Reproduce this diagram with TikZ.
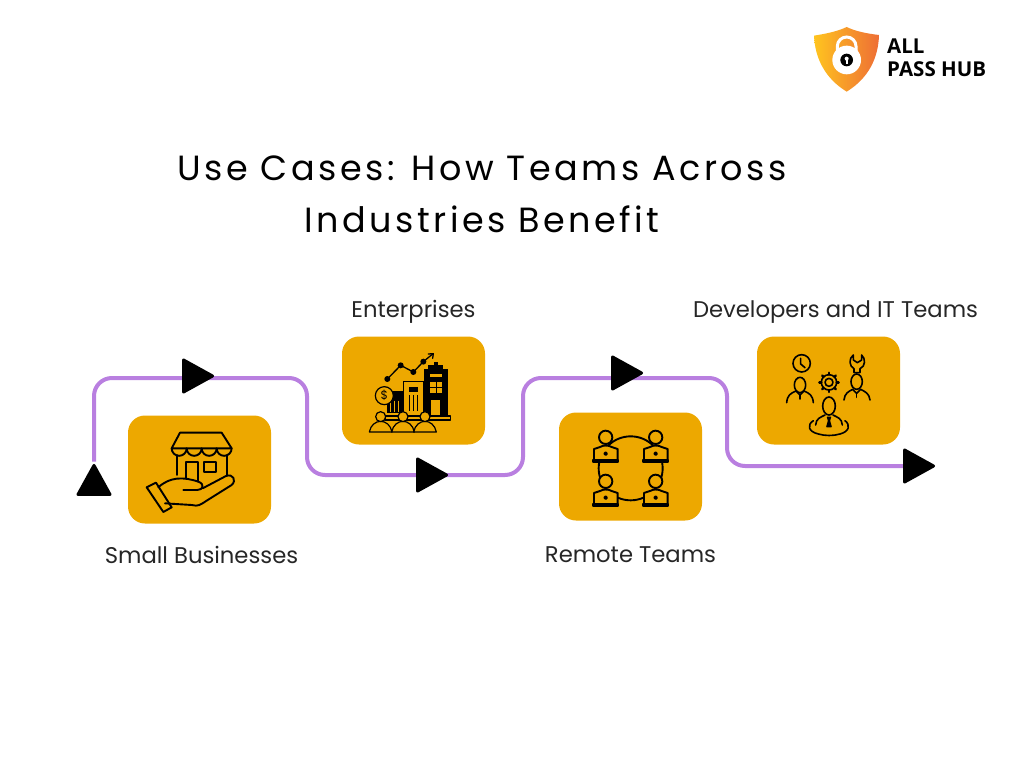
\documentclass[tikz,border=0pt]{standalone}
\usepackage{fontspec}
\setmainfont{Poppins}
\newfontfamily\titlefont[LetterSpace=10]{Poppins}
\newfontfamily\logofont{Open Sans}
\usetikzlibrary{backgrounds,positioning,shapes.geometric}
\definecolor{amber}{HTML}{EDA800}
\definecolor{routecol}{HTML}{B97FE0}
\definecolor{shieldl}{HTML}{FFC41F}
\definecolor{shieldr}{HTML}{EE6E35}

\begin{document}
\begin{tikzpicture}
  [
   x=1pt,y=-1pt,
   box/.style={rectangle,fill=amber,rounded corners=17pt,inner sep=0pt,outer sep=0pt,minimum width=143pt,minimum height=108pt},
   lbl/.style={font=\fontsize{22.7}{28}\selectfont,text=black!85,inner sep=0pt,text height=16pt,text depth=5pt},
   tri/.style={isosceles triangle,isosceles triangle stretches,fill=black,draw=black,line width=3pt,line join=round,inner sep=0pt,minimum width=32pt,minimum height=29pt},
   route/.style={draw=routecol,line width=4pt,rounded corners=18pt},
   icon/.style={line width=1.9pt,line join=round,line cap=round,draw=black},
   thinicon/.style={icon,line width=1.6pt},
   zoomed/.style={x=0.3333pt,y=-0.3333pt}
  ]
   \useasboundingbox (0,0) rectangle (1024,768);

   % title and logo text
   \node[font=\titlefont\fontsize{35}{52}\selectfont,align=center,inner sep=0pt] (title) at (482,194) {Use Cases: How Teams Across\\Industries Benefit};
   \node[font=\logofont\bfseries\fontsize{20.5}{23}\selectfont,align=left,inner sep=0pt,anchor=west] (logotxt) at (887,58) {ALL\\PASS HUB};

   % boxes
   \node[box] (box1) at (199.5,469.5) {};
   \node[box] (box2) [above right=-29pt and 71pt of box1] {};
   \node[box] (box3) [below right=-32pt and 74pt of box2] {};
   \node[box] (box4) [above right=-32pt and 55pt of box3] {};

   \node[lbl] (lbl1) [below=24pt of box1,xshift=2pt] {Small Businesses};
   \node[lbl] (lbl2) [above=14pt of box2] {Enterprises};
   \node[lbl] (lbl3) [below=26pt of box3] {Remote Teams};
   \node[lbl] (lbl4) [above=14pt of box4,xshift=7pt] {Developers and IT Teams};

   % arrows on the route
   \node[tri,shape border rotate=90] (tri1) at (94,485) {};
   \node[tri] (tri2) at (193,376) {};
   \node[tri] (tri3) at (427,475) {};
   \node[tri] (tri4) at (622,373) {};
   \node[tri] (tri5) at (914,466) {};

   \coordinate (c1) at (94,378);
   \coordinate (c2) at (307,378);
   \coordinate (c3) at (307,475);
   \coordinate (c4) at (523,475);
   \coordinate (c5) at (523,378);
   \coordinate (c6) at (727,378);
   \coordinate (c7) at (727,466);

   \begin{scope}[on background layer]
     \draw[route] (tri1) -- (c1) -- (c2) -- (c3) -- (c4) -- (c5) -- (c6) -- (c7) -- (tri5);
   \end{scope}

   % logo
   \begin{scope}[shift={(800,15)},zoomed]
     \shade[left color=shieldl,right color=shieldr] (42,62) .. controls (85,55) and (115,48) .. (140,36) .. controls (165,48) and (195,55) .. (237,60) .. controls (235,130) and (205,190) .. (140,230) .. controls (75,190) and (45,130) .. (42,62) -- cycle;
     \draw[white,line width=3pt] (112,110) -- (112,94) arc[start angle=180,end angle=360,radius=28] -- (168,110);
     \fill[white] (140,135) circle[radius=43];
     \fill[black] (140,135) circle[radius=19];
     \fill[white] (140,131) circle[radius=6];
     \fill[white] (137,131) rectangle (143,147);
   \end{scope}

   % small businesses icon
   \begin{scope}[shift={(120,410)},zoomed]
     \draw[icon] (180,68) -- (305,68) -- (335,115) -- (155,115) -- cycle;
     \draw[icon] (155,115) arc[start angle=180,end angle=0,radius=22.5] arc[start angle=180,end angle=0,radius=22.5] arc[start angle=180,end angle=0,radius=22.5] arc[start angle=180,end angle=0,radius=22.5];
     \draw[icon] (172,135) -- (172,195);
     \draw[icon] (320,135) -- (320,195);
     \draw[icon] (197,205) -- (197,155) -- (233,155) -- (233,215);
     \draw[icon] (252,155) rectangle (288,187);
     \draw[icon] (80,232) -- (108,218) -- (155,292) -- (130,306) -- cycle;
     \draw[icon] (115,232) .. controls (150,200) and (190,200) .. (235,215) .. controls (255,222) and (250,240) .. (232,240) -- (190,240);
     \draw[icon] (135,280) -- (215,285) .. controls (235,290) and (240,285) .. (260,272) -- (335,225) .. controls (350,212) and (340,190) .. (318,198) -- (248,235);
   \end{scope}

   % enterprises icon
   \begin{scope}[shift={(335,330)},zoomed]
     \draw[icon,line width=1.3pt] (157,147) -- (197,106) -- (235,126) -- (265,95) -- (293,72);
     \draw[icon,line width=1.3pt] (280,72) -- (295,71) -- (293,85);
     \foreach \px/\py in {157/147,197/106,235/126,265/95}
       \fill (\px,\py) circle[radius=9];
     \fill (155,182) rectangle (205,250);
     \foreach \px in {165,178,191}
       \draw[amber,line width=1pt] (\px,212) -- (\px,246);
     \fill (267,118) rectangle (338,258);
     \fill (280,105) rectangle (325,118);
     \fill (296,95) rectangle (308,105);
     \fill[amber] (285,132) rectangle (322,142);
     \fill[amber] (285,157) rectangle (322,190);
     \draw[black,line width=1pt] (303.5,157) -- (303.5,190) (285,173.5) -- (322,173.5);
     \fill[amber] (288,210) rectangle (315,255);
     \draw[icon,fill=amber,line width=1.2pt] (205,155) rectangle (267,258);
     \fill (222,172) rectangle (250,185);
     \foreach \px in {225,236,247}
       \draw[black,line width=1pt] (\px,195) -- (\px,242);
     \draw[icon,fill=amber,line width=1.2pt] (148,197) circle[radius=27];
     \node[font=\fontsize{12}{12}\selectfont,inner sep=0pt] (coin) at (148,197) {\$};
     \draw[icon,line width=1.2pt] (150,258) rectangle (347,270);
     \foreach \px in {137,204,270}
       {
       \draw[icon,fill=amber,line width=1.2pt] (\px-34,306) .. controls (\px-30,285) and (\px-15,274) .. (\px,274) .. controls (\px+15,274) and (\px+30,285) .. (\px+34,306) -- cycle;
       \draw[icon,fill=amber,line width=1.2pt] (\px,260) circle[radius=15];
       }
   \end{scope}

   % remote teams icon
   \begin{scope}[shift={(550,405)},zoomed]
     \draw[icon] (242,190) circle[radius=96];
     \foreach \px/\py in {0/0,150/0,0/132,150/132}
       {
       \begin{scope}[shift={(\px,\py)}]
         \draw[icon,fill=amber] (167,97) circle[radius=20];
         \draw[icon,fill=amber] (132,165) -- (132,132) -- (150,126) .. controls (160,120) and (175,120) .. (185,126) -- (203,132) -- (203,165) -- cycle;
         \draw[icon,fill=black] (130,165) rectangle (205,171);
         \draw[icon,fill=black] (167,146) circle[radius=4];
       \end{scope}
       }
   \end{scope}

   % developers icon
   \begin{scope}[shift={(750,330)},zoomed]
     \draw[thinicon] (155,100) circle[radius=26];
     \draw[thinicon] (152,85) -- (152,102) -- (165,113);
     \draw[thinicon] (150,165) ellipse[x radius=17,y radius=23];
     \draw[thinicon] (110,218) .. controls (112,195) and (122,190) .. (138,183) -- (150,195) -- (162,183) .. controls (178,190) and (188,195) .. (190,218);
     \draw[thinicon] (150,195) -- (150,207);
     \draw[thinicon] (310,75) .. controls (295,85) and (298,110) .. (312,116) -- (312,128) -- (330,128) -- (330,116) .. controls (347,110) and (347,85) .. (335,75) -- (335,90) -- (322,98) -- (310,90) -- cycle;
     \draw[thinicon] (320,155) ellipse[x radius=17,y radius=23];
     \draw[thinicon] (282,210) .. controls (284,190) and (295,185) .. (308,178) -- (320,190) -- (332,178) .. controls (345,185) and (358,190) .. (360,210);
     \draw[thinicon] (320,190) -- (320,202);
     \draw[thinicon] (237,157) circle[radius=23];
     \draw[thinicon] (237,157) circle[radius=12];
     \foreach \ang in {0,45,...,315}
       \draw[thinicon,line width=2.4pt] (237,157) ++(\ang:23) -- ++(\ang:6);
     \draw[thinicon] (237,228) ellipse[x radius=19,y radius=27];
     \draw[thinicon] (197,285) .. controls (198,265) and (212,262) .. (225,255) (249,255) .. controls (262,262) and (276,265) .. (277,285);
     \draw[thinicon,fill=black] (233,262) -- (241,262) -- (238,272) -- (243,290) -- (231,290) -- (236,272) -- cycle;
     \draw[thinicon] (190,272) .. controls (170,285) and (175,305) .. (205,312) .. controls (225,318) and (250,318) .. (270,312) .. controls (298,305) and (302,285) .. (285,272);
   \end{scope}

\end{tikzpicture}
\end{document}
